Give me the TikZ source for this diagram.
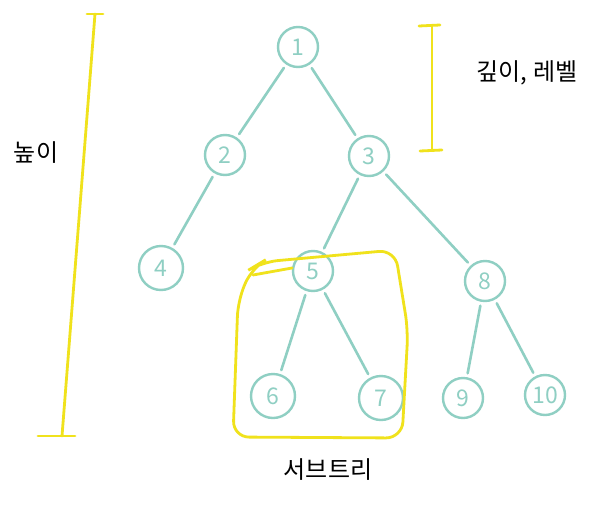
\documentclass[tikz,border=0pt]{standalone}
\usepackage{fontspec}
\setmainfont{Noto Sans CJK KR}
\begin{document}
\begin{tikzpicture}[x=1pt,y=-1pt,
  tnode/.style={circle,draw=teal0,line width=2.4pt,text=teal0,minimum size=40pt,inner sep=0pt,font=\fontsize{23}{23}\selectfont},
  tedge/.style={draw=teal0,line width=2.6pt,line cap=round,shorten <=4pt,shorten >=4pt},
  ymark/.style={draw=yel,line width=2.8pt,line cap=round},
  lbl/.style={font=\fontsize{24}{26}\selectfont,text=black}]
\definecolor{teal0}{HTML}{8FCFC3}
\definecolor{yel}{HTML}{F0E21C}
\useasboundingbox[fill=white] (0,0) rectangle (610,525);
% nodes
\node[tnode] (n1) at (298,47) {1};
\node[tnode] (n2) at (225,155) {2};
\node[tnode] (n3) at (369,156) {3};
\node[tnode,minimum size=44pt] (n4) at (161,268) {4};
\node[tnode] (n5) at (313,271) {5};
\node[tnode] (n8) at (485,281) {8};
\node[tnode,minimum size=44pt] (n6) at (273,396) {6};
\node[tnode,minimum size=44pt] (n7) at (381,398) {7};
\node[tnode] (n9) at (463,398) {9};
\node[tnode] (n10) at (545,395) {10};
% edges
\draw[tedge] (n1) -- (n2);
\draw[tedge] (n1) -- (n3);
\draw[tedge] (n2) -- (n4);
\draw[tedge] (n3) -- (n5);
\draw[tedge] (n3) -- (n8);
\draw[tedge] (n5) -- (n6);
\draw[tedge] (n5) -- (n7);
\draw[tedge] (n8) -- (n9);
\draw[tedge] (n8) -- (n10);
% height bar
\coordinate (ht) at (95,14);
\coordinate (hb) at (62,436);
\draw[ymark] (ht) -- (hb);
\draw[ymark] (87,14) -- (103,14);
\draw[ymark] (38,436) -- (75,436);
% depth bracket
\coordinate (dt) at (432,26);
\coordinate (db) at (432,150);
\draw[ymark] (dt) -- (db);
\draw[ymark] (419,26) -- (440,25);
\draw[ymark] (420,151) -- (442,150);
% subtree box
\draw[ymark,rounded corners=16pt] (252,268) -- (238,300) -- (233,437) -- (402,438) -- (408,330) -- (395,250) -- (262,262) -- cycle;
\draw[ymark] (253,275) -- (292,268);
% labels
\node[lbl] (tH) at (36,153) {높이};
\node[lbl] (tD) at (527,73) {깊이, 레벨};
\node[lbl] (tS) at (328,470) {서브트리};
\end{tikzpicture}
\end{document}
